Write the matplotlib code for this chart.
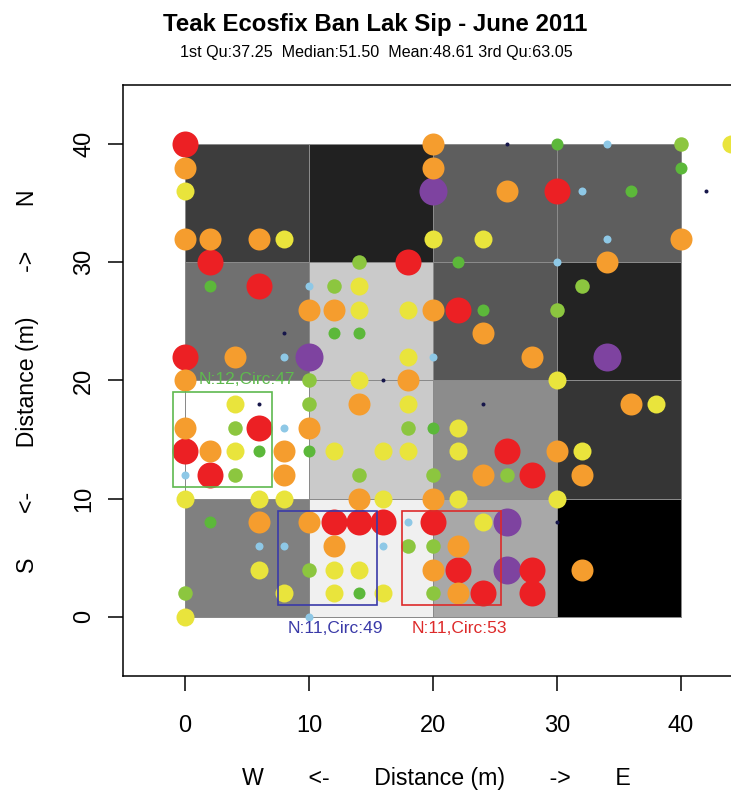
import matplotlib
matplotlib.use("Agg")
import matplotlib.pyplot as plt
from matplotlib.patches import Rectangle
import numpy as np

plt.rcParams['font.family'] = ['Liberation Sans', 'DejaVu Sans']

# tree positions (m) and size class
xs = [0, 20, 26, 30, 34, 40, 44,
      0, 20, 40,
      0, 20, 26, 30, 32, 36, 42,
      0, 2, 6, 8, 20, 24, 34, 40,
      2, 14, 18, 22, 30, 34,
      2, 6, 10, 12, 14, 32,
      10, 12, 14, 18, 20, 22, 24, 30,
      8, 12, 14, 24,
      0, 4, 8, 10, 18, 20, 28, 34,
      0, 10, 14, 16, 18, 30,
      4, 6, 10, 14, 18, 24, 36, 38,
      0, 4, 6, 8, 10, 18, 20, 22,
      0, 2, 4, 6, 8, 10, 12, 16, 18, 22, 26, 30, 32,
      0, 2, 4, 8, 14, 20, 24, 26, 28, 32,
      0, 6, 8, 14, 16, 20, 22, 30,
      2, 6, 10, 12, 14, 16, 18, 20, 24, 26, 30,
      6, 8, 12, 16, 18, 20, 22,
      6, 10, 12, 14, 20, 22, 26, 28, 32,
      0, 8, 12, 14, 16, 20, 22, 24, 28,
      0, 10]
ys = [40] * 7 + [38] * 3 + [36] * 7 + [32] * 8 + [30] * 6 + [28] * 6 + \
     [26] * 8 + [24] * 4 + [22] * 8 + [20] * 6 + [18] * 8 + [16] * 8 + \
     [14] * 13 + [12] * 10 + [10] * 8 + [8] * 11 + [6] * 7 + [4] * 9 + \
     [2] * 9 + [0] * 2
cls = ['red', 'orange', 'navy', 'green', 'blue', 'lime', 'yellow',
       'orange', 'orange', 'green',
       'yellow', 'purple', 'orange', 'red', 'blue', 'green', 'navy',
       'orange', 'orange', 'orange', 'yellow', 'yellow', 'yellow', 'blue', 'orange',
       'red', 'lime', 'red', 'green', 'blue', 'orange',
       'green', 'red', 'blue', 'lime', 'yellow', 'lime',
       'orange', 'orange', 'yellow', 'yellow', 'orange', 'red', 'green', 'lime',
       'navy', 'green', 'green', 'orange',
       'red', 'orange', 'blue', 'purple', 'yellow', 'blue', 'orange', 'purple',
       'orange', 'lime', 'yellow', 'navy', 'orange', 'yellow',
       'yellow', 'navy', 'lime', 'orange', 'yellow', 'navy', 'orange', 'yellow',
       'orange', 'lime', 'red', 'blue', 'orange', 'lime', 'green', 'yellow',
       'red', 'orange', 'yellow', 'green', 'orange', 'green', 'yellow', 'yellow',
       'yellow', 'yellow', 'red', 'orange', 'yellow',
       'blue', 'red', 'lime', 'orange', 'lime', 'lime', 'orange', 'lime', 'red', 'orange',
       'yellow', 'yellow', 'yellow', 'orange', 'yellow', 'orange', 'yellow', 'yellow',
       'green', 'orange', 'orange', 'red', 'red', 'red', 'blue', 'red', 'yellow', 'purple', 'navy',
       'blue', 'blue', 'orange', 'blue', 'lime', 'lime', 'orange',
       'yellow', 'lime', 'yellow', 'yellow', 'orange', 'red', 'purple', 'red', 'orange',
       'lime', 'yellow', 'yellow', 'green', 'yellow', 'lime', 'orange', 'red', 'red',
       'yellow', 'blue']

# 10x10 m cell shading (0 = black, 1 = white), rows from south to north
cell_gray = np.array([[0.50, 0.94, 0.66, 0.00],
                      [1.00, 0.79, 0.55, 0.21],
                      [0.44, 0.79, 0.34, 0.14],
                      [0.24, 0.13, 0.37, 0.37]])
cell_edges = [0, 10, 20, 30, 40]

# sub-plots: (x0, y0, w, h), label, label pos
boxes = [(-1, 11, 8, 8), (7.5, 1, 8, 8), (17.5, 1, 8, 8)]
box_labels = ['N:12,Circ:47', 'N:11,Circ:49', 'N:11,Circ:53']
box_label_xy = [(5, 20.1), (12.1, -1.0), (22.1, -1.0)]
box_colors = ['#5fb94f', '#3a3aa8', '#dd2a2a']

style = {
    'navy':   ('#16164a', 4),
    'blue':   ('#8ec8e6', 8),
    'green':  ('#5cb83a', 12),
    'lime':   ('#8cc63f', 14.5),
    'yellow': ('#e9e43c', 18),
    'orange': ('#f59d2e', 22),
    'red':    ('#ec2024', 26),
    'purple': ('#7e43a0', 28),
}

fig = plt.figure(figsize=(7.31, 7.93), dpi=100)
ax = fig.add_axes([123 / 731, 117 / 793, 620 / 731, 591 / 793])

ax.pcolormesh(cell_edges, cell_edges, cell_gray, cmap='gray', vmin=0, vmax=1,
              edgecolors='#8a8a8a', linewidth=0.4, zorder=1)

xs = np.array(xs)
ys = np.array(ys)
cls = np.array(cls)
for k in ['purple', 'red', 'orange', 'yellow', 'lime', 'green', 'blue', 'navy']:
    m = cls == k
    col, d = style[k]
    ax.scatter(xs[m], ys[m], s=(d * 0.72) ** 2, c=col, linewidths=0, zorder=3)

for (x0, y0, w, h), lab, (lx, ly), col in zip(boxes, box_labels, box_label_xy, box_colors):
    ax.add_patch(Rectangle((x0, y0), w, h, fill=False, edgecolor=col, linewidth=1.2, zorder=4))
    ax.text(lx, ly, lab, color=col, fontsize=12.5, ha='center', va='center', zorder=5)

ax.set_xlim(-5, 45)
ax.set_ylim(-5, 45)
ax.set_xticks([0, 10, 20, 30, 40])
ax.set_yticks([0, 10, 20, 30, 40])
for sp in ax.spines.values():
    sp.set_linewidth(1.1)
ax.tick_params(length=11, width=1.1, labelsize=17)
ax.tick_params(axis='x', pad=17)
ax.tick_params(axis='y', pad=9, labelrotation=90)
for t in ax.get_yticklabels():
    t.set_va('center')

fig.text(375 / 731, 1 - 25 / 793, 'Teak Ecosfix Ban Lak Sip - June 2011',
         fontsize=17.3, fontweight='bold', ha='center', va='center')
fig.text(376 / 731, 1 - 53 / 793, '1st Qu:37.25  Median:51.50  Mean:48.61 3rd Qu:63.05',
         fontsize=11.6, ha='center', va='center')

fig.text(436 / 731, 1 - 778 / 793, 'W       <-       Distance (m)       ->       E',
         fontsize=16.7, ha='center', va='center')
fig.text(28 / 731, 1 - 381 / 793, 'S       <-       Distance (m)       ->       N',
         fontsize=16.7, ha='center', va='center', rotation=90)

fig.savefig('out.png', dpi=100)
